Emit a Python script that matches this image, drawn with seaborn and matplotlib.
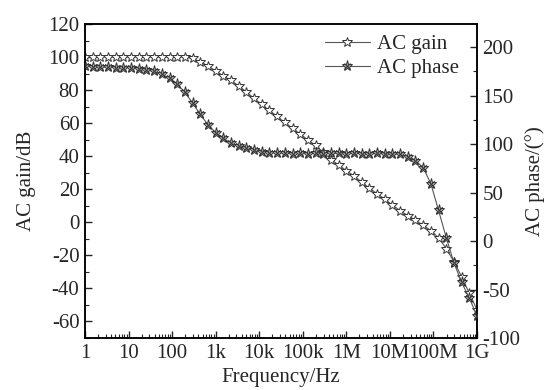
import numpy as np
import pandas as pd
import matplotlib
matplotlib.use("Agg")
import matplotlib.pyplot as plt
from matplotlib.lines import Line2D
from matplotlib.legend_handler import HandlerTuple
from matplotlib.ticker import FixedLocator, LogLocator, MultipleLocator, NullFormatter
import seaborn as sns

# ---- data ----
base = [1, 1.501, 2.254, 3.383, 5.079, 7.625, 11.45, 17.19, 25.80, 38.74,
        58.16, 87.31, 131.1, 196.8, 295.5, 443.6, 665.9]
freq_hz = ([v for v in base] + [v * 1e3 for v in base] + [v * 1e6 for v in base] + [1e9])

ac_gain_db = [100, 100, 100, 100, 100, 100, 100, 100, 100, 100, 100, 100, 100, 100,
              99.2, 97.1, 94.7, 91.6, 88.6, 85.9, 82.5, 78.9, 75.0, 71.3, 67.7, 64.1,
              60.4, 56.8, 53.5, 49.8, 46.5, 42.5, 38.0, 34.7, 31.3, 28.0, 24.4, 20.7,
              17.4, 14.1, 10.4, 7.1, 4.1, 1.3, -1.7, -5.0, -9.3, -15.9, -23.8, -32.9,
              -42.9, -52.9]

ac_phase_deg = [180.2, 179.9, 179.9, 179.3, 179.1, 179.0, 178.7, 177.6, 176.4, 175.0,
                171.9, 168.0, 161.7, 153.6, 142.2, 130.8, 119.9, 112.0, 105.9, 101.0,
                97.9, 95.8, 93.6, 91.8, 91.3, 90.9, 90.6,
                90.3, 90.5, 90.2, 90.4, 90.3, 90.6, 90.4, 90.2, 90.5, 90.3, 90.1, 90.4,
                90.0, 89.8, 89.4,
                87.2, 83.1, 75.8, 59.2, 31.7, 3.6, -22.3, -42.6, -58.7, -77.4]

x_ticks = [1, 10, 100, 1e3, 1e4, 1e5, 1e6, 1e7, 1e8, 1e9]
x_ticklabels = ["1", "10", "100", "1k", "10k", "100k", "1M", "10M", "100M", "1G"]

df = pd.DataFrame({"freq": freq_hz, "gain": ac_gain_db, "phase": ac_phase_deg})

# ---- style ----
sns.set_style("ticks")
plt.rcParams["font.family"] = ["Liberation Serif", "DejaVu Serif"]
plt.rcParams["axes.unicode_minus"] = False
FS = 15

fig = plt.figure(figsize=(5.46, 3.90), dpi=100)
ax = fig.add_axes([0.1557, 0.1333, 0.7179, 0.8052])
ax2 = ax.twinx()

line_col = "#555555"
edge_col = "#333333"

sns.lineplot(data=df, x="freq", y="gain", ax=ax, color=line_col, lw=0.8,
             marker="*", markersize=7, markerfacecolor="white",
             markeredgecolor=edge_col, markeredgewidth=0.7, legend=False)
sns.lineplot(data=df, x="freq", y="phase", ax=ax2, color=line_col, lw=0.8,
             marker="*", markersize=8, markerfacecolor="#bbbbbb",
             markeredgecolor=edge_col, markeredgewidth=0.7, legend=False)
sns.scatterplot(data=df, x="freq", y="phase", ax=ax2, marker="x", s=22,
                color=edge_col, linewidth=0.8, legend=False, zorder=5)

ax.set_xscale("log")
ax.set_xlim(1, 1e9)
ax.set_ylim(-70, 120)
ax2.set_ylim(-100, 224)

ax.set_xticks(x_ticks)
ax.set_xticklabels(x_ticklabels, fontsize=FS)
ax.xaxis.set_minor_locator(LogLocator(base=10, subs=np.arange(2, 10), numticks=20))
ax.xaxis.set_minor_formatter(NullFormatter())

ax.yaxis.set_major_locator(FixedLocator([-60, -40, -20, 0, 20, 40, 60, 80, 100, 120]))
ax.yaxis.set_minor_locator(MultipleLocator(10))
ax2.yaxis.set_major_locator(FixedLocator([-100, -50, 0, 50, 100, 150, 200]))
ax2.yaxis.set_minor_locator(MultipleLocator(25))

for a in (ax, ax2):
    a.tick_params(which="major", direction="in", length=5, width=1.0, labelsize=FS, pad=4)
    a.tick_params(which="minor", direction="in", length=3, width=0.8)
    for s in a.spines.values():
        s.set_linewidth(1.1)
        s.set_color("black")
ax.tick_params(axis="x", which="both", top=False)
ax.tick_params(axis="y", which="both", right=False)
ax2.tick_params(axis="y", which="both", left=False, right=True)

ax.set_xlabel("Frequency/Hz", fontsize=FS, labelpad=4)
ax.set_ylabel("AC gain/dB", fontsize=FS, labelpad=9)
ax2.set_ylabel("AC phase/(°)", fontsize=FS, labelpad=3)

h_gain = Line2D([], [], color=line_col, lw=0.8, marker="*", markersize=7,
                markerfacecolor="white", markeredgecolor=edge_col, markeredgewidth=0.7)
h_ph1 = Line2D([], [], color=line_col, lw=0.8, marker="*", markersize=8,
               markerfacecolor="#bbbbbb", markeredgecolor=edge_col, markeredgewidth=0.7)
h_ph2 = Line2D([], [], color=edge_col, lw=0, marker="x", markersize=4.5,
               markeredgewidth=0.8)
leg = ax2.legend([h_gain, (h_ph1, h_ph2)], ["AC gain", "AC phase"],
                 handler_map={tuple: HandlerTuple(ndivide=1, pad=0)},
                 loc="upper right", bbox_to_anchor=(0.985, 1.005), frameon=False,
                 fontsize=FS, handlelength=2.2, handletextpad=0.3,
                 labelspacing=0.2, borderaxespad=0.2)

fig.savefig("out.png", dpi=100)
